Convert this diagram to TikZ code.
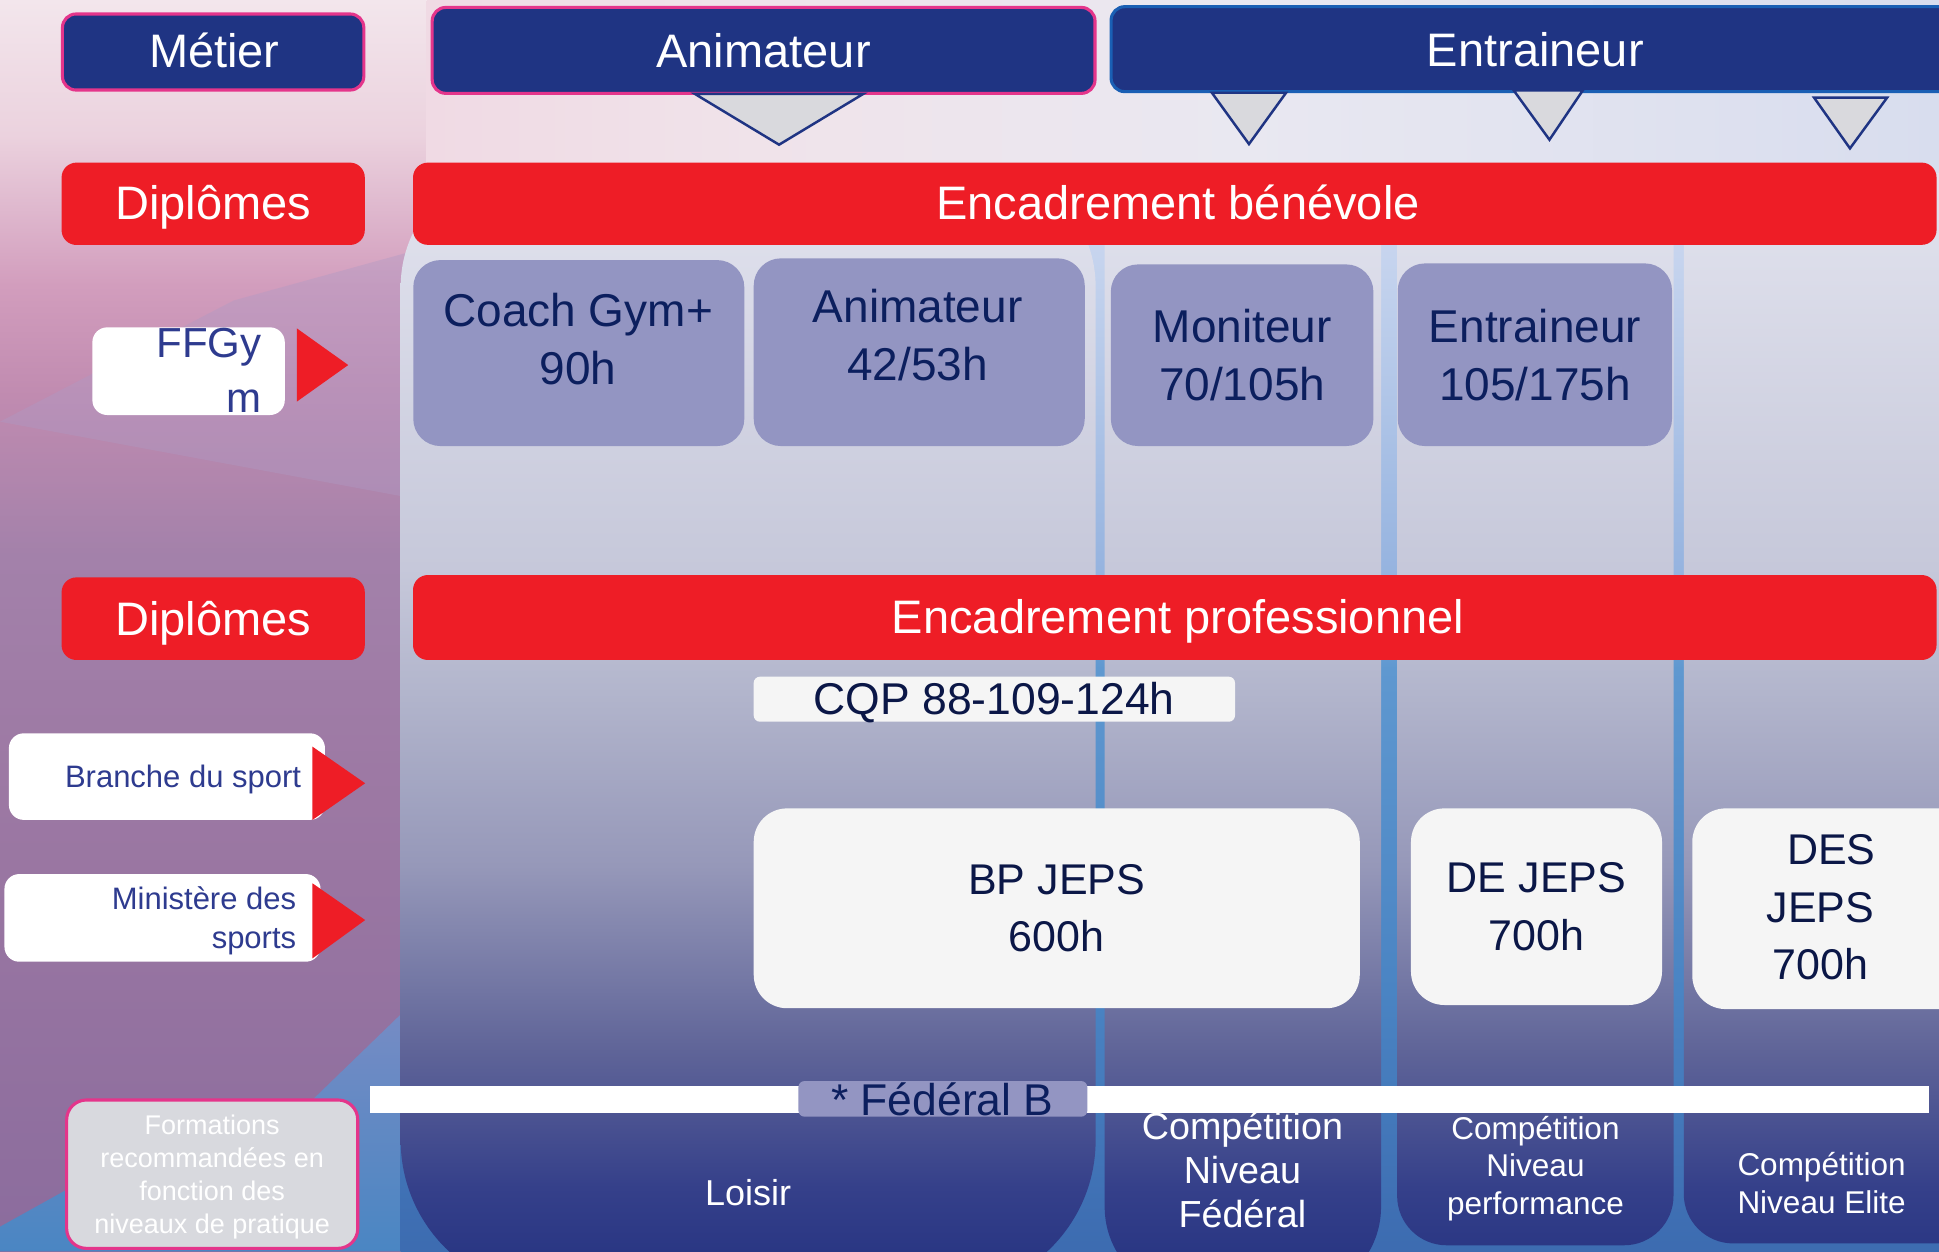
\documentclass[tikz,border=0pt]{standalone}
\usepackage{fontspec}
\setmainfont{Liberation Sans}
\newdimen\dpx \dpx=1.2366pt
\definecolor{navy}{HTML}{1F3483}
\definecolor{pinkb}{HTML}{E4358B}
\definecolor{blueb}{HTML}{1A5FB4}
\definecolor{redc}{HTML}{EE1D26}
\definecolor{purp}{HTML}{9395C2}
\definecolor{navytxt}{HTML}{0C1F5E}
\definecolor{darktxt}{HTML}{0B1747}
\definecolor{bluetxt}{HTML}{2E3B8F}
\definecolor{boxw}{HTML}{F5F5F5}
\definecolor{trif}{HTML}{D9D9DD}
\definecolor{formf}{HTML}{D8D9DE}
\definecolor{lav}{HTML}{AE9AC4}
\definecolor{cA}{HTML}{22307F}
\definecolor{cB}{HTML}{35408A}
\definecolor{cC}{HTML}{5F6498}
\definecolor{cD}{HTML}{9698B9}
\definecolor{cE}{HTML}{B2B5CC}
\definecolor{cF}{HTML}{C6C8DA}
\definecolor{cG}{HTML}{E3E4EF}
\definecolor{lA}{HTML}{8B6C9D}
\definecolor{lB}{HTML}{9C78A3}
\definecolor{lC}{HTML}{A381AA}
\definecolor{lD}{HTML}{C08BB0}
\definecolor{lE}{HTML}{D29DBD}
\definecolor{lF}{HTML}{EBD2DE}
\definecolor{lG}{HTML}{F3E6EC}
\definecolor{tA}{HTML}{F0DAE4}
\definecolor{tB}{HTML}{F0E3EA}
\definecolor{tC}{HTML}{E9E8F1}
\definecolor{tD}{HTML}{D8DDEE}
\definecolor{uA}{HTML}{3A67AD}
\definecolor{uB}{HTML}{4A84C3}
\definecolor{uC}{HTML}{5F98D0}
\definecolor{uD}{HTML}{95B3DF}
\definecolor{uE}{HTML}{C9D6EF}
\definecolor{bA}{HTML}{7A8CC4}
\definecolor{bB}{HTML}{4A86C3}
\pgfdeclareverticalshading{colsh}{100bp}{color(0bp)=(cA); color(25bp)=(cA); color(29.89bp)=(cB); color(35.87bp)=(cC); color(44.02bp)=(cD); color(51.63bp)=(cE); color(57.07bp)=(cF); color(75bp)=(cG); color(100bp)=(cG)}
\pgfdeclareverticalshading{leftsh}{100bp}{color(0bp)=(lA); color(25bp)=(lA); color(42.9bp)=(lB); color(52.8bp)=(lC); color(59.2bp)=(lD); color(63.6bp)=(lE); color(69.6bp)=(lF); color(75bp)=(lG); color(100bp)=(lG)}
\pgfdeclarehorizontalshading{topsh}{100bp}{color(0bp)=(tA); color(25bp)=(tA); color(35.9bp)=(tB); color(52.1bp)=(tC); color(75bp)=(tD); color(100bp)=(tD)}
\pgfdeclareverticalshading{ulsh}{100bp}{color(0bp)=(uA); color(25bp)=(uA); color(39.5bp)=(uB); color(54.65bp)=(uC); color(59bp)=(uD); color(75bp)=(uE); color(100bp)=(uE)}
\begin{document}
\begin{tikzpicture}[x=\dpx, y=-\dpx,
  box/.style={inner sep=0pt, outer sep=0pt},
  navybox/.style={box, fill=navy, draw=pinkb, line width=2.5\dpx, rounded corners=11\dpx},
  redbox/.style={box, fill=redc, rounded corners=12\dpx},
  purpbox/.style={box, fill=purp, rounded corners=22\dpx},
  whitebox/.style={box, fill=white, rounded corners=12\dpx},
  lightbox/.style={box, fill=boxw, rounded corners=27\dpx},
  txt/.style={inner sep=0pt, outer sep=0pt},
  f47/.style={txt, font=\fontsize{47}{58}\selectfont},
  f46/.style={txt, font=\fontsize{46}{58}\selectfont, align=center},
  f445/.style={txt, font=\fontsize{44.5}{55}\selectfont},
  f43/.style={txt, font=\fontsize{43}{57.3}\selectfont, align=center},
  downtri/.style={fill=trif, draw=navy, line width=2\dpx, line join=miter},
  redtri/.style={fill=redc}
]
\useasboundingbox (0,0) rectangle (1568,1012);
\begin{scope}
\clip (0,0) rectangle (1568,1012);
% background
\shade[shading=leftsh] (0,0) rectangle (345,1012);
\fill[lav, fill opacity=0.4] (0,341) -- (189,243) -- (345,200) -- (345,405) -- cycle;
\shade[shading=topsh] (345,0) rectangle (1568,200);
\shade[top color=bA, bottom color=bB] (345,800) -- (345,1012) -- (0,1012) -- (0,992) -- (54,962) -- (250,892) -- cycle;
\shade[shading=ulsh] (880,190) -- (1600,190) -- (1600,1050) -- (324,1050) -- (324,600) -- (880,600) -- cycle;
% columns
\begin{scope}
\clip[rounded corners=100\dpx] (324,600) -- (324,132) -- (886,132) -- (886,600) [rounded corners=123\dpx] -- (886,1045) -- (324,1045) -- cycle
  [rounded corners=8\dpx] (893.3,600) -- (893.3,140) -- (1116.8,140) -- (1116.8,600) [rounded corners=72\dpx] -- (1116.8,1048) -- (893.3,1048) -- cycle
  [rounded corners=8\dpx] (1129.8,600) -- (1129.8,140) -- (1353.3,140) -- (1353.3,600) [rounded corners=40\dpx] -- (1353.3,1007) -- (1129.8,1007) -- cycle
  [rounded corners=8\dpx] (1361.6,600) -- (1361.6,140) -- (1620,140) -- (1620,600) [rounded corners=40\dpx] -- (1620,1005.5) -- (1361.6,1005.5) -- cycle;
\shade[shading=colsh] (324,130) rectangle (1620,1050);
\end{scope}

% header row
\node[navybox, minimum width=243.7\dpx, minimum height=61.5\dpx] (metier) at (172.35,42.05) {};
\node[navybox, minimum width=536\dpx, minimum height=69.5\dpx] (anim) at (617.5,40.75) {};
\node[navybox, draw=blueb, minimum width=701.5\dpx, minimum height=68.7\dpx] (entr) at (1249.25,39.75) {};
\node[f47, white, anchor=base] (metier-t) at (173.3,54.7) {Métier};
\node[f47, white, anchor=base] (anim-t) at (617.5,54.2) {Animateur};
\node[f47, white, anchor=base] (entr-t) at (1241.5,53.6) {Entraineur};
% pointers
\filldraw[downtri] (562,76) -- (698,76) -- (630,117) -- cycle;
\filldraw[downtri] (980,75) -- (1040,75) -- (1010,116.5) -- cycle;
\filldraw[downtri] (1224,73) -- (1280,73) -- (1253,113) -- cycle;
\filldraw[downtri] (1467,79) -- (1526,79) -- (1496,120) -- cycle;

% red bands
\node[redbox, minimum width=245.2\dpx, minimum height=66.6\dpx] (dip1) at (172.4,164.8) {};
\node[redbox, minimum width=1232\dpx, minimum height=66.5\dpx] (benev) at (950,164.75) {};
\node[redbox, minimum width=245.2\dpx, minimum height=66.8\dpx] (dip2) at (172.4,500.3) {};
\node[redbox, minimum width=1232\dpx, minimum height=68.7\dpx] (pro) at (950,499.35) {};
\node[f47, white, anchor=base] (dip1-t) at (172.3,177.9) {Diplômes};
\node[f47, white, anchor=base] (benev-t) at (952.6,177.9) {Encadrement bénévole};
\node[f47, white, anchor=base] (dip2-t) at (172.3,513.5) {Diplômes};
\node[f47, white, anchor=base] (pro-t) at (952.6,512.3) {Encadrement professionnel};

% federation diplomas
\node[purpbox, minimum width=267.7\dpx, minimum height=150.4\dpx] (coach) at (468.05,285.5) {};
\node[purpbox, minimum width=267.7\dpx, minimum height=151.8\dpx] (anim2) at (743.35,284.8) {};
\node[purpbox, minimum width=212.3\dpx, minimum height=146.9\dpx] (moni) at (1004.45,287.25) {};
\node[purpbox, minimum width=221.8\dpx, minimum height=147.7\dpx] (entr2) at (1241.2,286.85) {};
\node[f46, navytxt, anchor=north] (coach-t) at (467.5,236.9) {Coach Gym+\\90h};
\node[f46, navytxt, anchor=north] (anim2-t) at (742,233.9) {Animateur\\42/53h};
\node[f46, navytxt, anchor=north] (moni-t) at (1004.5,250.1) {Moniteur\\70/105h};
\node[f46, navytxt, anchor=north] (entr2-t) at (1241.3,249.7) {Entraineur\\105/175h};

% left labels
\node[whitebox, minimum width=155.6\dpx, minimum height=70.9\dpx] (ffgym) at (152.5,300.15) {};
\node[txt, bluetxt, anchor=north east, align=right, font=\fontsize{42}{54.7}\selectfont] (ffgym-t) at (211.5,265.4) {FFGy\\m};
\fill[redtri] (240,265.5) -- (281.6,295.2) -- (240,324.8) -- cycle;
\node[whitebox, minimum width=255.6\dpx, minimum height=70\dpx] (branche) at (135,628) {};
\node[txt, bluetxt, anchor=base east, font=\fontsize{31}{38.3}\selectfont] (branche-t) at (243.5,637) {Branche du sport};
\fill[redtri] (252.7,603.8) -- (295.3,633.4) -- (252.7,663) -- cycle;
\node[whitebox, minimum width=255.6\dpx, minimum height=70.9\dpx] (minist) at (131.4,742.25) {};
\node[txt, bluetxt, anchor=north east, align=right, font=\fontsize{31}{38.3}\selectfont] (minist-t) at (239.5,717.3) {Ministère des\\sports};
\fill[redtri] (252.7,714.3) -- (295.3,744) -- (252.7,775) -- cycle;

% professional diplomas
\node[box, fill=boxw, rounded corners=5\dpx, minimum width=389.2\dpx, minimum height=36.4\dpx] (cqp) at (804.1,565.4) {};
\node[f445, darktxt, anchor=base] (cqp-t) at (804,577.9) {CQP 88-109-124h};
\node[lightbox, minimum width=490.1\dpx, minimum height=161.6\dpx] (bp) at (854.55,734.5) {};
\node[lightbox, minimum width=203\dpx, minimum height=159\dpx] (dejeps) at (1242.5,733.2) {};
\node[lightbox, minimum width=231.5\dpx, minimum height=162.3\dpx] (desjeps) at (1484.25,734.85) {};
\node[f43, darktxt, anchor=north] (bp-t) at (854.5,699.1) {BP JEPS\\600h};
\node[f43, darktxt, anchor=north] (dejeps-t) at (1242.5,697.7) {DE JEPS\\700h};
\node[f43, darktxt, anchor=north] (desjeps-t) at (1472,675.2) {\hspace*{18\dpx}DES\\JEPS\\700h};

% practice levels
\node[txt, white, anchor=base, font=\fontsize{36}{44}\selectfont] (loisir) at (605,975) {Loisir};
\node[txt, white, anchor=north, align=center, font=\fontsize{37.7}{43.9}\selectfont] (federal) at (1004.7,898.8) {Compétition\\Niveau\\Fédéral};
\node[txt, white, anchor=north, align=center, font=\fontsize{31.5}{37.5}\selectfont] (perf) at (1241.7,902.6) {Compétition\\Niveau\\performance};
\node[txt, white, anchor=north, align=center, font=\fontsize{31.5}{38}\selectfont] (elite) at (1473,931.7) {Compétition\\Niveau Elite};

% white bar and Federal B
\fill[white] (299,878.2) rectangle (1560,899.8);
\node[box, fill=purp, rounded corners=5\dpx, minimum width=233.7\dpx, minimum height=28.8\dpx] (fedb) at (762.45,888.6) {};
\node[f445, navytxt, anchor=base] (fedb-t) at (762,902.4) {* Fédéral B};

% legend box
\node[box, fill=formf, draw=pinkb, line width=2.5\dpx, rounded corners=16\dpx, minimum width=235.4\dpx, minimum height=120\dpx] (form) at (171.6,949.5) {};
\node[txt, white, anchor=north, align=center, font=\fontsize{27}{32.9}\selectfont] (form-t) at (171.6,901.6) {Formations\\recommandées en\\fonction des\\niveaux de pratique};
\end{scope}
\end{tikzpicture}
\end{document}
